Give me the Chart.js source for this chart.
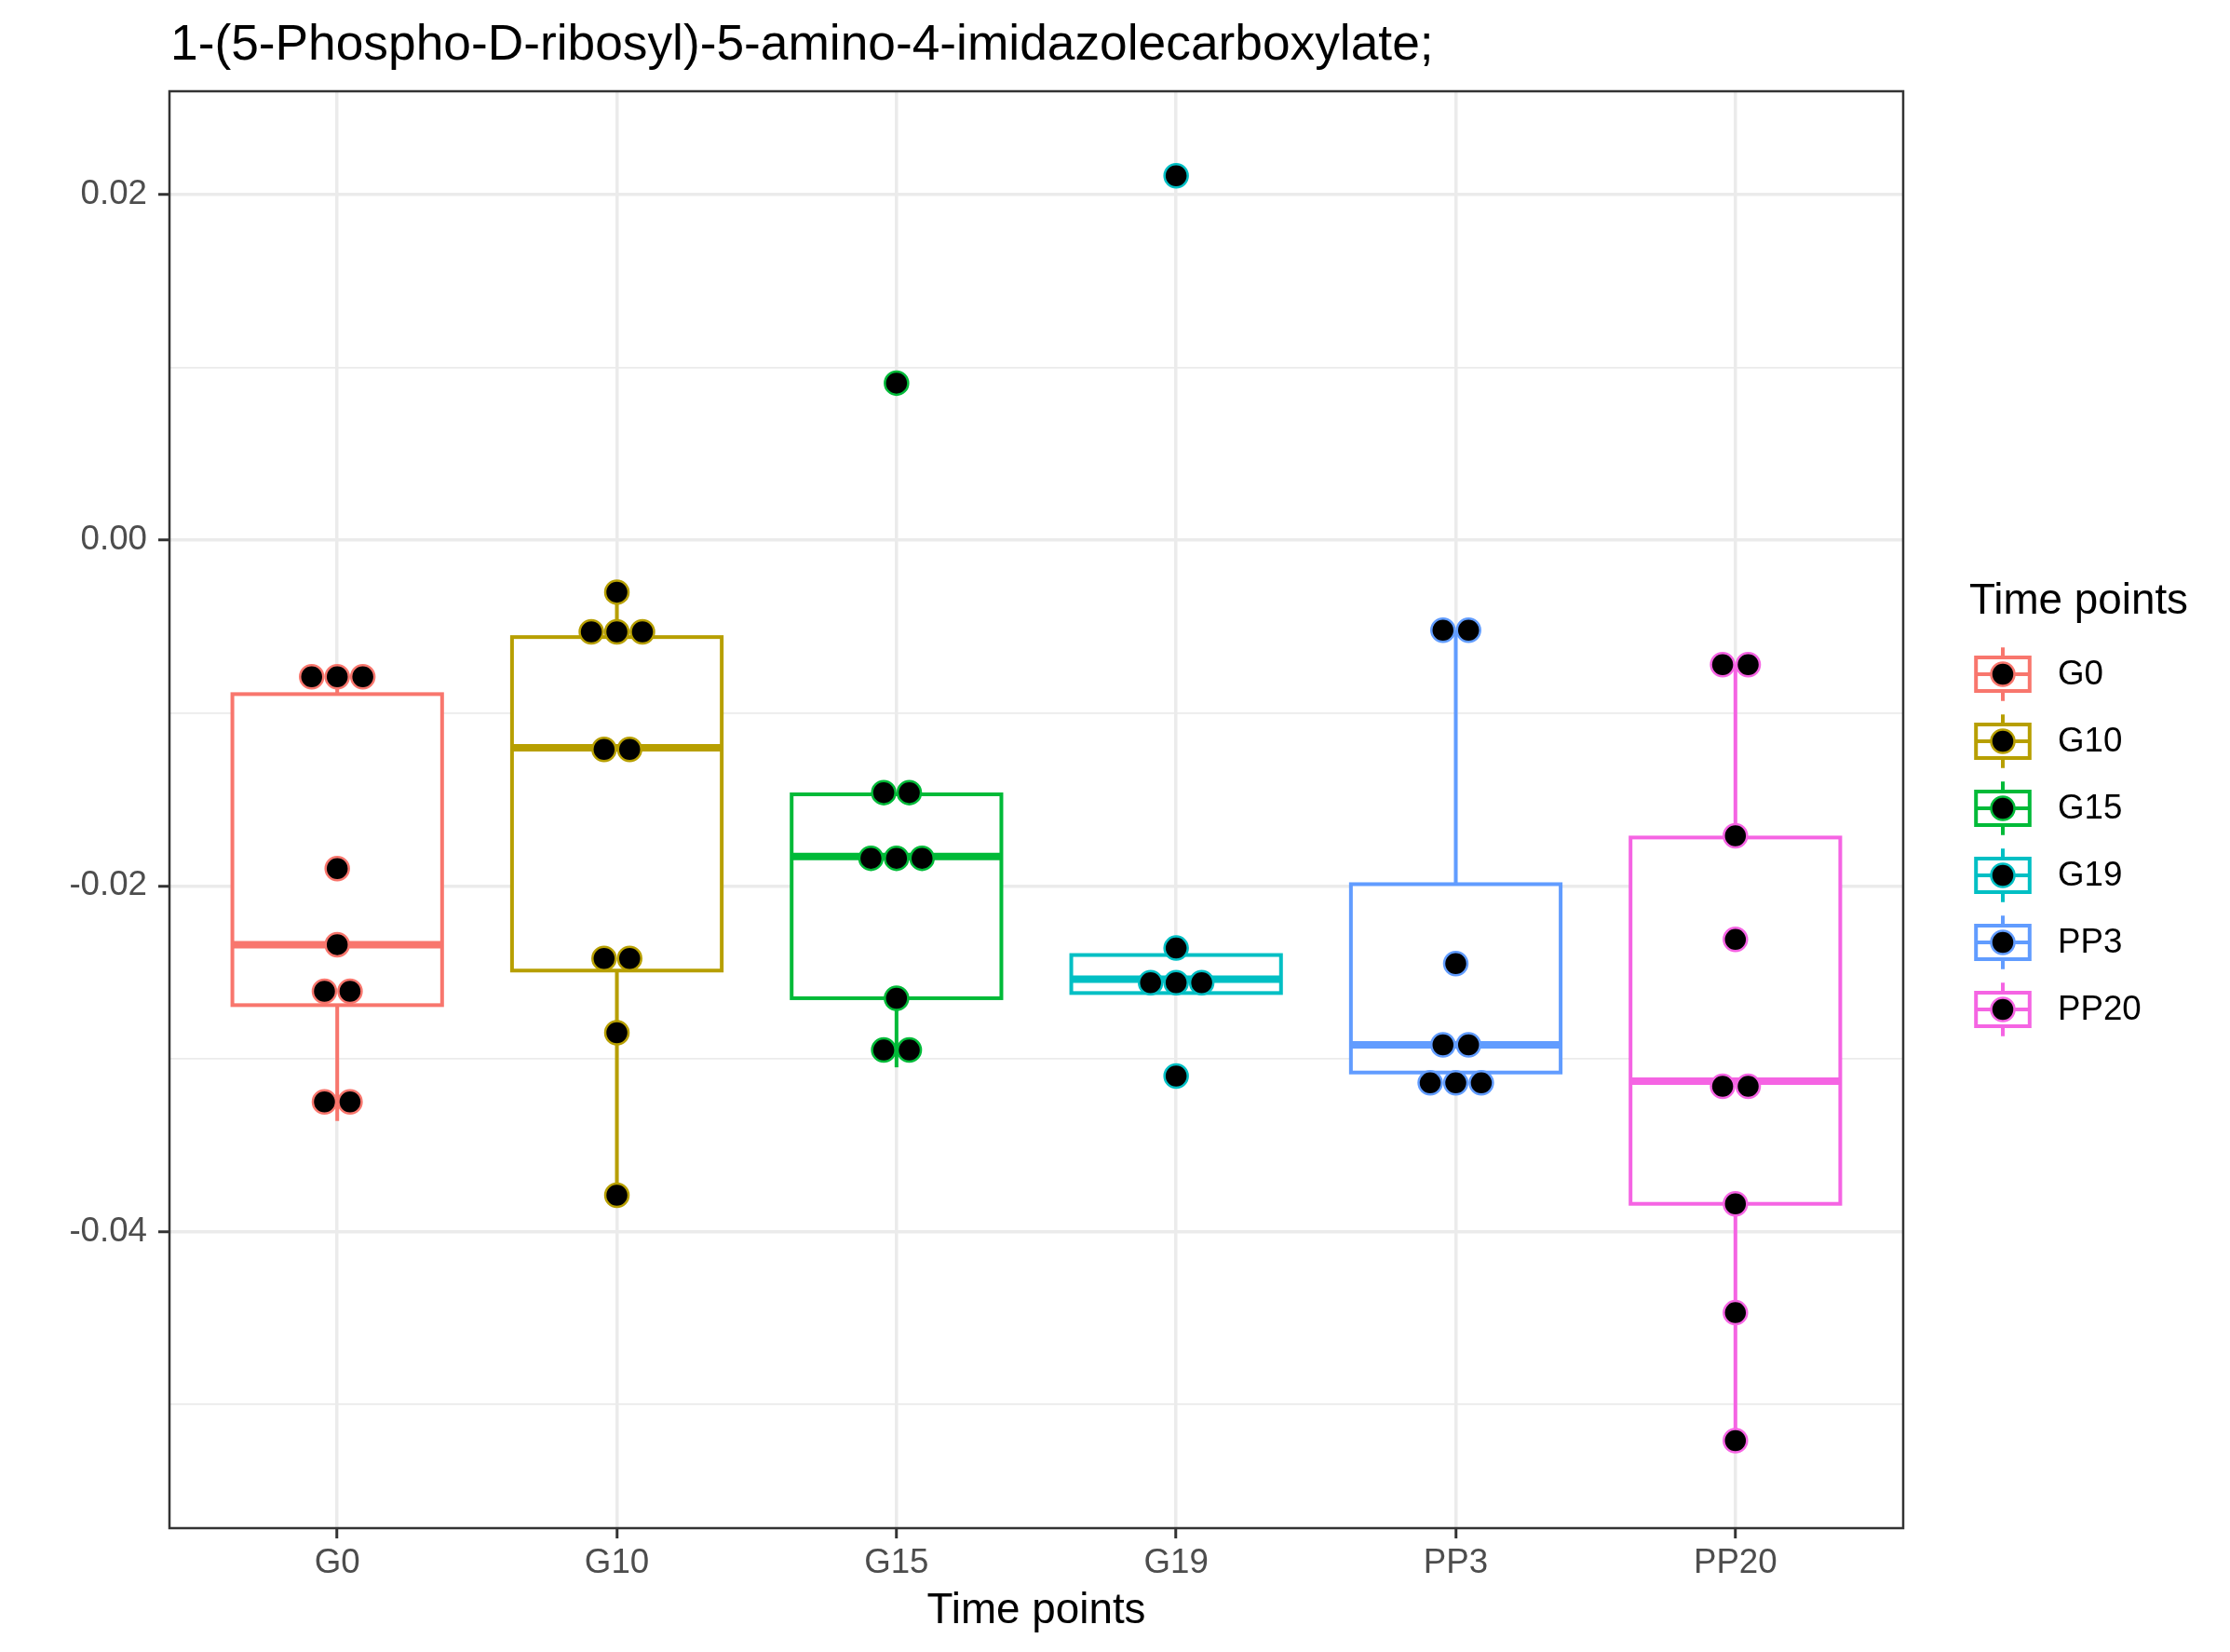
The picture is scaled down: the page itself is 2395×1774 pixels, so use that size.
<!DOCTYPE html>
<html><head><meta charset="utf-8">
<script src="https://cdn.jsdelivr.net/npm/chart.js@4.4.1/dist/chart.umd.min.js"></script>
<style>html,body{margin:0;padding:0;background:#fff;} canvas{display:block;}</style>
</head><body>
<canvas id="c" width="2395" height="1774" style="width:2395px;height:1774px"></canvas>
<script>
const titleText = '1-(5-Phospho-D-ribosyl)-5-amino-4-imidazolecarboxylate;';
const xAxisTitle = 'Time points';
const legendTitle = 'Time points';
const categories = ['G0', 'G10', 'G15', 'G19', 'PP3', 'PP20'];
const colors = ['#F8766D', '#B79F00', '#00BA38', '#00BFC4', '#619CFF', '#F564E3'];

// dot values per time point (binned dot positions)
const valuesG0   = [-0.0079, -0.0079, -0.0079, -0.0190, -0.0234, -0.0261, -0.0261, -0.0325, -0.0325];
const valuesG10  = [-0.0030, -0.0053, -0.0053, -0.0053, -0.0121, -0.0121, -0.0242, -0.0242, -0.0285, -0.0379];
const valuesG15  = [0.0091, -0.0146, -0.0146, -0.0184, -0.0184, -0.0184, -0.0265, -0.0295, -0.0295];
const valuesG19  = [0.0211, -0.0236, -0.0256, -0.0256, -0.0256, -0.0310];
const valuesPP3  = [-0.0052, -0.0052, -0.0245, -0.0292, -0.0292, -0.0314, -0.0314, -0.0314];
const valuesPP20 = [-0.0072, -0.0072, -0.0171, -0.0231, -0.0316, -0.0316, -0.0384, -0.0447, -0.0521];

// box statistics per time point
const whiskerLow  = [-0.0336, -0.0379, -0.0305, -0.0262, -0.0315, -0.0521];
const lowerHinge  = [-0.0269, -0.0249, -0.0265, -0.0262, -0.0308, -0.0384];
const medians     = [-0.0234, -0.0120, -0.0183, -0.0254, -0.0292, -0.0313];
const upperHinge  = [-0.0089, -0.0056, -0.0147, -0.0240, -0.0199, -0.0172];
const whiskerHigh = [-0.0077, -0.0030, -0.0147, -0.0236, -0.0052, -0.0072];

// y axis ticks
const yMajorTicks = [-0.04, -0.02, 0.00, 0.02];
const yMinorTicks = [-0.05, -0.03, -0.01, 0.01];
const yMin = -0.05717, yMax = 0.02599;

const seriesValues = [valuesG0, valuesG10, valuesG15, valuesG19, valuesPP3, valuesPP20];
const FONT = '"Liberation Sans", Arial, Helvetica, sans-serif';
const STACK_STEP = 0.0914;
const BOX_HALF = 0.375;

function stackPoints(vals, i) {
  const groups = new Map();
  vals.forEach(v => { groups.set(v, (groups.get(v) || 0) + 1); });
  const pts = [];
  groups.forEach((n, v) => {
    for (let k = 0; k < n; k++) pts.push({ x: i + (k - (n - 1) / 2) * STACK_STEP, y: v });
  });
  return pts;
}
const isMajor = v => yMajorTicks.some(m => Math.abs(m - v) < 1e-9);

const boxPlugin = {
  id: 'boxes',
  beforeDatasetsDraw(chart) {
    const { ctx, scales: { x, y } } = chart;
    ctx.save();
    categories.forEach((c, i) => {
      const cx = x.getPixelForValue(i);
      const x0 = x.getPixelForValue(i - BOX_HALF), x1 = x.getPixelForValue(i + BOX_HALF);
      const yLo = y.getPixelForValue(lowerHinge[i]), yHi = y.getPixelForValue(upperHinge[i]);
      ctx.strokeStyle = colors[i];
      ctx.lineWidth = 4;
      ctx.beginPath();
      ctx.moveTo(cx, y.getPixelForValue(whiskerLow[i])); ctx.lineTo(cx, yLo);
      ctx.moveTo(cx, yHi); ctx.lineTo(cx, y.getPixelForValue(whiskerHigh[i]));
      ctx.stroke();
      ctx.fillStyle = '#FFFFFF';
      ctx.fillRect(x0, yHi, x1 - x0, yLo - yHi);
      ctx.strokeRect(x0, yHi, x1 - x0, yLo - yHi);
      ctx.lineWidth = 8;
      ctx.beginPath();
      const ym = y.getPixelForValue(medians[i]);
      ctx.moveTo(x0, ym); ctx.lineTo(x1, ym);
      ctx.stroke();
    });
    ctx.restore();
  }
};

const decorPlugin = {
  id: 'decor',
  afterDraw(chart) {
    const { ctx, chartArea: a } = chart;
    ctx.save();
    // panel border
    ctx.strokeStyle = '#333333';
    ctx.lineWidth = 2.5;
    ctx.strokeRect(a.left, a.top, a.right - a.left, a.bottom - a.top);
    // title
    ctx.fillStyle = '#000000';
    ctx.textBaseline = 'alphabetic';
    ctx.textAlign = 'left';
    ctx.font = '53.3px ' + FONT;
    ctx.fillText(titleText, a.left + 1, 64);
    // x axis title
    ctx.font = '45.8px ' + FONT;
    ctx.textAlign = 'center';
    ctx.fillText(xAxisTitle, (a.left + a.right) / 2, 1743);
    // legend
    const lx = 2115, keyTop = 688, keyH = 72, keyW = 72;
    ctx.textAlign = 'left';
    ctx.fillText(legendTitle, lx, 659);
    categories.forEach((c, i) => {
      const top = keyTop + i * keyH;
      const cx = lx + keyW / 2, cy = top + keyH / 2;
      ctx.strokeStyle = colors[i];
      ctx.lineWidth = 4;
      ctx.beginPath();
      ctx.moveTo(cx, top + keyH * 0.1); ctx.lineTo(cx, top + keyH * 0.25);
      ctx.moveTo(cx, top + keyH * 0.75); ctx.lineTo(cx, top + keyH * 0.9);
      ctx.moveTo(lx + keyW * 0.1, cy); ctx.lineTo(lx + keyW * 0.9, cy);
      ctx.stroke();
      ctx.strokeRect(lx + keyW * 0.1, top + keyH * 0.25, keyW * 0.8, keyH * 0.5);
      ctx.beginPath();
      ctx.arc(cx, cy, 12.5, 0, Math.PI * 2);
      ctx.fillStyle = '#000000';
      ctx.fill();
      ctx.lineWidth = 2.5;
      ctx.stroke();
      ctx.fillStyle = '#000000';
      ctx.font = '36.7px ' + FONT;
      ctx.textBaseline = 'middle';
      ctx.fillText(c, lx + keyW + 23, cy + 1);
      ctx.textBaseline = 'alphabetic';
    });
    ctx.restore();
  }
};

Chart.defaults.font.family = FONT;
new Chart(document.getElementById('c').getContext('2d'), {
  type: 'scatter',
  data: {
    datasets: seriesValues.map((vals, i) => ({
      label: categories[i],
      data: stackPoints(vals, i),
      pointRadius: 12.5,
      pointHoverRadius: 12.5,
      pointBorderWidth: 2.5,
      pointBackgroundColor: '#000000',
      pointBorderColor: colors[i],
      backgroundColor: '#000000',
      borderColor: colors[i]
    }))
  },
  options: {
    responsive: false,
    animation: false,
    devicePixelRatio: 1,
    layout: { padding: { top: 98, right: 351, bottom: 0, left: 0 } },
    plugins: { legend: { display: false }, tooltip: { enabled: false }, title: { display: false } },
    scales: {
      x: {
        type: 'linear', min: -0.6, max: 5.6,
        afterBuildTicks: s => { s.ticks = categories.map((c, i) => ({ value: i })); },
        afterFit: s => { s.height = 133; },
        ticks: {
          callback: v => categories[Math.round(v)],
          font: { size: 36.7, family: FONT }, color: '#4D4D4D', padding: 5,
          autoSkip: false, maxRotation: 0, minRotation: 0
        },
        grid: { color: '#EBEBEB', lineWidth: 3.5, tickLength: 11, tickColor: '#333333', tickWidth: 3 },
        border: { display: false }
      },
      y: {
        type: 'linear', min: yMin, max: yMax,
        afterBuildTicks: s => { s.ticks = yMinorTicks.concat(yMajorTicks).sort((p, q) => p - q).map(v => ({ value: v })); },
        afterFit: s => { s.width = 182; },
        ticks: {
          callback: v => isMajor(v) ? v.toFixed(2) : '',
          font: { size: 36.7, family: FONT }, color: '#4D4D4D', padding: 12, autoSkip: false
        },
        grid: {
          color: '#EBEBEB',
          lineWidth: c => (c.tick && isMajor(c.tick.value)) ? 3.5 : 1.8,
          tickLength: 12,
          tickColor: c => (c.tick && isMajor(c.tick.value)) ? '#333333' : 'rgba(0,0,0,0)',
          tickWidth: 3
        },
        border: { display: false }
      }
    }
  },
  plugins: [boxPlugin, decorPlugin]
});
</script>
</body></html>
